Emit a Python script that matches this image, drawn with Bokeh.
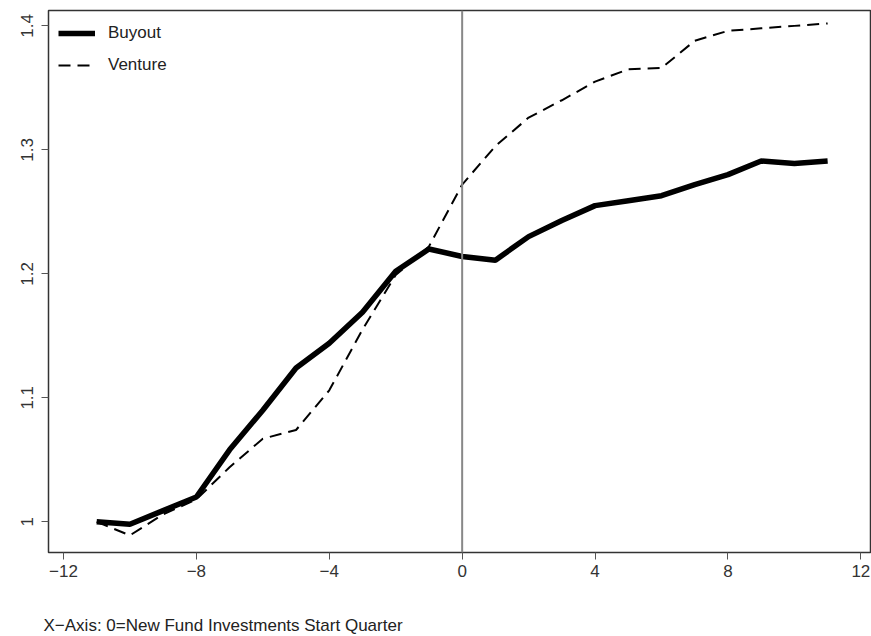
from bokeh.plotting import figure
from bokeh.models import Span, Title, FixedTicker, Range1d, Legend, LegendItem
from bokeh.embed import file_html
from bokeh.resources import INLINE

# Quarters relative to the start of new fund investments
quarters = list(range(-11, 12))

# Average value index by fund type
buyout = [1.000, 0.998, 1.009, 1.020, 1.058, 1.090, 1.124, 1.144, 1.169, 1.202, 1.220,
          1.214, 1.211, 1.230, 1.243, 1.255, 1.259, 1.263, 1.272, 1.280, 1.291, 1.289, 1.291]
venture = [1.000, 0.989, 1.006, 1.018, 1.044, 1.067, 1.074, 1.106, 1.155, 1.199, 1.222,
           1.272, 1.303, 1.326, 1.340, 1.355, 1.365, 1.366, 1.388, 1.396, 1.398, 1.400, 1.402]

x_ticks = [-12, -8, -4, 0, 4, 8, 12]
x_tick_labels = ["\u221212", "\u22128", "\u22124", "0", "4", "8", "12"]
y_ticks = [1.0, 1.1, 1.2, 1.3, 1.4]
y_tick_labels = ["1", "1.1", "1.2", "1.3", "1.4"]
caption = "X\u2212Axis: 0=New Fund Investments Start Quarter"

FONT = "Liberation Sans"
FSIZE = "17px"

p = figure(width=871, height=636, output_backend="svg", toolbar_location=None,
           x_range=Range1d(-12.45, 12.32), y_range=Range1d(0.9752, 1.4124),
           min_border_left=48, min_border_right=0, min_border_top=10, min_border_bottom=84)

p.grid.visible = False
p.background_fill_color = "white"
p.border_fill_color = "white"
p.outline_line_color = "#333333"
p.outline_line_width = 1.5

for ax in (p.xaxis[0], p.yaxis[0]):
    ax.axis_line_color = None
    ax.major_tick_line_color = "#555555"
    ax.major_tick_line_width = 1
    ax.major_tick_in = 0
    ax.major_tick_out = 7
    ax.minor_tick_line_color = None
    ax.major_label_text_font = FONT
    ax.major_label_text_font_size = FSIZE
    ax.major_label_text_color = "#333333"

p.xaxis.major_label_standoff = 5
p.yaxis.major_label_standoff = 8
p.xaxis.ticker = FixedTicker(ticks=x_ticks)
p.xaxis.major_label_overrides = {t: l for t, l in zip(x_ticks, x_tick_labels)}
p.yaxis.ticker = FixedTicker(ticks=y_ticks)
p.yaxis.major_label_overrides = {t: l for t, l in zip(y_ticks, y_tick_labels)}
p.yaxis.major_label_orientation = "vertical"

# blank axis label keeps a gap between the tick labels and the caption
p.xaxis.axis_label = " "
p.xaxis.axis_label_text_font_size = "1px"
p.xaxis.axis_label_standoff = 30

# reference line at the investment start quarter
p.add_layout(Span(location=0, dimension="height", line_color="#888888", line_width=2))

r_buy = p.line(quarters, buyout, line_color="black", line_width=5.5)
r_ven = p.line(quarters, venture, line_color="black", line_width=2, line_dash="12 7")

legend = Legend(items=[LegendItem(label="Buyout", renderers=[r_buy]),
                       LegendItem(label="Venture", renderers=[r_ven])],
                location="top_left", border_line_color=None, background_fill_alpha=0,
                margin=10, padding=0, spacing=6, glyph_width=37, glyph_height=26,
                label_height=26, label_standoff=13,
                label_text_font=FONT, label_text_font_size=FSIZE, label_text_color="#222222")
p.add_layout(legend)

p.add_layout(Title(text=caption, align="left", offset=-5, standoff=0,
                   text_font=FONT, text_font_size=FSIZE, text_font_style="normal",
                   text_color="#222222"), "below")

open("out.html", "w").write(file_html(p, INLINE))
